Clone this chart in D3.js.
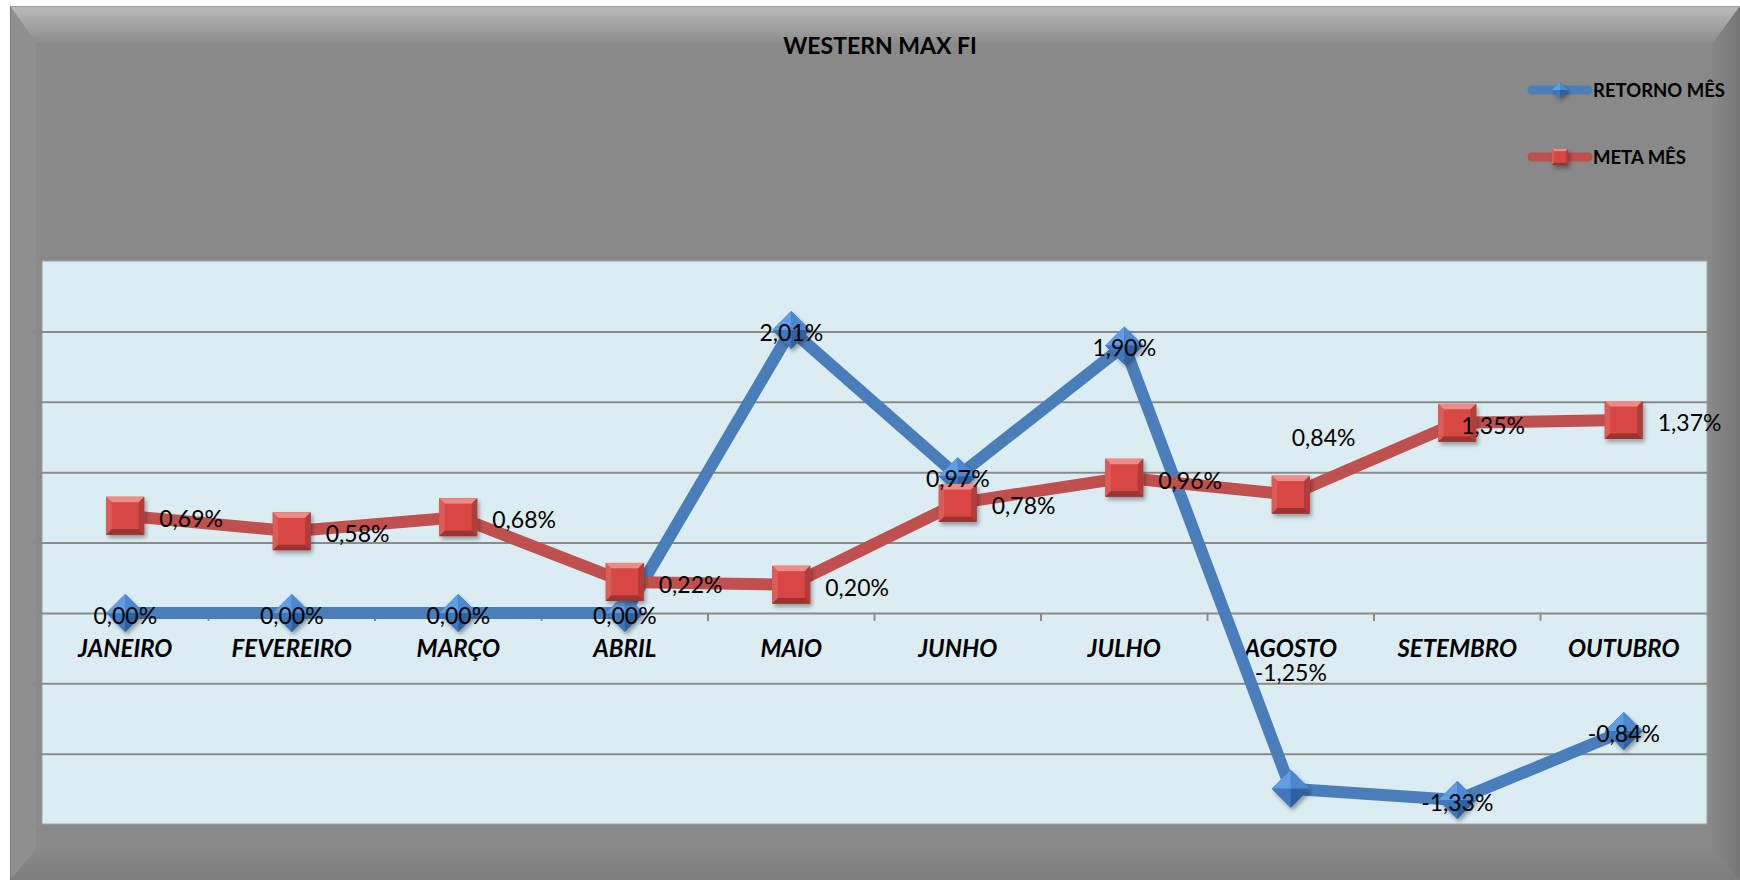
<!DOCTYPE html>
<html>
<head>
<meta charset="utf-8">
<script src="https://cdn.jsdelivr.net/npm/d3@7"></script>
<style>
  body { margin: 0; background: #ffffff; }
  svg text { font-family: Lato, "Open Sans", sans-serif; }
</style>
</head>
<body>
<div id="chart"></div>
<script>
// chart values

var months = ["JANEIRO", "FEVEREIRO", "MARÇO", "ABRIL", "MAIO", "JUNHO", "JULHO", "AGOSTO", "SETEMBRO", "OUTUBRO"];
var retornoMes = [0.00, 0.00, 0.00, 0.00, 2.01, 0.97, 1.90, -1.25, -1.33, -0.84];
var metaMes = [0.69, 0.58, 0.68, 0.22, 0.20, 0.78, 0.96, 0.84, 1.35, 1.37];
var seriesNames = ["RETORNO MÊS", "META MÊS"];
var yTicks = [-1.5, -1.0, -0.5, 0, 0.5, 1.0, 1.5, 2.0, 2.5];

// SVG container size

var svgWidth = 1740;
var svgHeight = 880;

var plot = { left: 42, top: 261, right: 1707, bottom: 824 };

var svg = d3.select("#chart")
    .append("svg")
    .attr("width", svgWidth)
    .attr("height", svgHeight);

var defs = svg.append("defs");

var topGrad = defs.append("linearGradient").attr("id", "topGrad")
    .attr("x1", 0).attr("y1", 0).attr("x2", 0).attr("y2", 1);
topGrad.append("stop").attr("offset", "0%").attr("stop-color", "#bcbcbc");
topGrad.append("stop").attr("offset", "100%").attr("stop-color", "#8c8c8c");

var rightGrad = defs.append("linearGradient").attr("id", "rightGrad")
    .attr("x1", 0).attr("y1", 0).attr("x2", 1).attr("y2", 0);
rightGrad.append("stop").attr("offset", "0%").attr("stop-color", "#878787");
rightGrad.append("stop").attr("offset", "100%").attr("stop-color", "#767676");

var bottomGrad = defs.append("linearGradient").attr("id", "bottomGrad")
    .attr("x1", 0).attr("y1", 0).attr("x2", 0).attr("y2", 1);
bottomGrad.append("stop").attr("offset", "0%").attr("stop-color", "#888888");
bottomGrad.append("stop").attr("offset", "100%").attr("stop-color", "#7d7d7d");

var shadow = defs.append("filter").attr("id", "shadow")
    .attr("x", "-50%").attr("y", "-50%").attr("width", "200%").attr("height", "200%");
shadow.append("feDropShadow")
    .attr("dx", 2).attr("dy", 3).attr("stdDeviation", 2)
    .attr("flood-color", "#000").attr("flood-opacity", 0.35);

// outer frame with bevel

var fx0 = 10, fy0 = 6, fx1 = 1740, fy1 = 880, bev = 27;
svg.append("rect")
    .attr("x", fx0).attr("y", fy0)
    .attr("width", fx1 - fx0).attr("height", fy1 - fy0)
    .attr("fill", "#898989");
svg.append("polygon")
    .attr("points", [[fx0, fy0], [fx1, fy0], [fx1 - bev, fy0 + 37], [fx0 + 26, fy0 + 37]].join(" "))
    .attr("fill", "url(#topGrad)");
svg.append("polygon")
    .attr("points", [[fx0, fy0], [fx0 + 26, fy0 + 37], [fx0 + 26, fy1 - 30], [fx0, fy1]].join(" "))
    .attr("fill", "#8f8f8f");
svg.append("polygon")
    .attr("points", [[fx1, fy0], [fx1, fy1], [fx1 - bev, fy1 - 30], [fx1 - bev, fy0 + 37]].join(" "))
    .attr("fill", "url(#rightGrad)");
svg.append("polygon")
    .attr("points", [[fx0, fy1], [fx0 + 26, fy1 - 30], [fx1 - bev, fy1 - 30], [fx1, fy1]].join(" "))
    .attr("fill", "url(#bottomGrad)");
svg.append("line")
    .attr("x1", fx0 + 0.5).attr("x2", fx0 + 0.5).attr("y1", fy0).attr("y2", fy1)
    .attr("stroke", "#7a7a7a").attr("stroke-width", 1);
svg.append("line")
    .attr("x1", fx0).attr("x2", fx1).attr("y1", fy0 + 0.5).attr("y2", fy0 + 0.5)
    .attr("stroke", "#9c9c9c").attr("stroke-width", 1);

// title

svg.append("text")
    .attr("x", 880)
    .attr("y", 45)
    .attr("text-anchor", "middle")
    .attr("dominant-baseline", "central")
    .attr("font-size", 23)
    .attr("font-weight", "bold")
    .attr("fill", "#000")
    .text("WESTERN MAX FI");

// plot area

svg.append("rect")
    .attr("x", plot.left).attr("y", plot.top)
    .attr("width", plot.right - plot.left).attr("height", plot.bottom - plot.top)
    .attr("fill", "#dbedf3")
    .attr("stroke", "#9aa6aa")
    .attr("stroke-width", 1);

var xScale = d3.scaleBand()
    .domain(months)
    .range([plot.left, plot.right])
    .padding(0);

var yScale = d3.scaleLinear()
    .domain([-1.5, 2.5])
    .range([plot.bottom, plot.top]);

var cx = function (i) { return xScale(months[i]) + xScale.bandwidth() / 2; };

// gridlines

var gridAxis = d3.axisLeft(yScale)
    .tickValues(yTicks.filter(function (t) { return t > -1.5 && t < 2.5; }))
    .tickSize(-(plot.right - plot.left))
    .tickFormat("");

var grid = svg.append("g")
    .attr("transform", `translate(${plot.left}, 0)`)
    .call(gridAxis);
grid.select(".domain").remove();
grid.selectAll(".tick line")
    .attr("stroke", "#8a8a8a")
    .attr("stroke-width", 2);

// y axis ticks (no labels)

var leftAxis = d3.axisLeft(yScale)
    .tickValues(yTicks)
    .tickSize(9)
    .tickFormat("");
var yAxis = svg.append("g")
    .attr("transform", `translate(${plot.left}, 0)`)
    .call(leftAxis);
yAxis.select(".domain").remove();
yAxis.selectAll(".tick line").attr("stroke", "#8a8a8a").attr("stroke-width", 2);

// x axis ticks at category boundaries on the zero line

var zeroY = yScale(0);
var boundaries = months.map(function (m) { return xScale(m); }).concat([plot.right]);
svg.selectAll(".xtick")
    .data(boundaries.slice(1, -1))
    .enter()
    .append("line")
    .attr("class", "xtick")
    .attr("x1", d => d).attr("x2", d => d)
    .attr("y1", zeroY).attr("y2", zeroY + 8)
    .attr("stroke", "#8a8a8a")
    .attr("stroke-width", 2);

// category labels

svg.selectAll(".catLabel")
    .data(months)
    .enter()
    .append("text")
    .attr("class", "catLabel")
    .attr("x", (d, i) => cx(i))
    .attr("y", 647)
    .attr("text-anchor", "middle")
    .attr("dominant-baseline", "central")
    .attr("font-size", 24)
    .attr("font-weight", "bold")
    .attr("font-style", "italic")
    .attr("fill", "#000")
    .text(d => d);

// lines

var blue = "#4a7ebb";
var red = "#c0504d";

var lineGen = d3.line()
    .x(function (d, i) { return cx(i); })
    .y(function (d) { return yScale(d); });

svg.append("path")
    .datum(retornoMes)
    .attr("d", lineGen)
    .attr("fill", "none")
    .attr("stroke", blue)
    .attr("stroke-width", 12)
    .attr("stroke-linejoin", "round");

svg.append("path")
    .datum(metaMes)
    .attr("d", lineGen)
    .attr("fill", "none")
    .attr("stroke", red)
    .attr("stroke-width", 12)
    .attr("stroke-linejoin", "round");

// markers

function drawDiamond(g, h) {
    g.append("polygon")
        .attr("points", [[0, -h], [h, 0], [0, h], [-h, 0]].join(" "))
        .attr("fill", "#3f74b4")
        .attr("filter", "url(#shadow)");
    g.append("polygon").attr("points", [[0, -h], [-h, 0], [0, 0]].join(" ")).attr("fill", "#5f9de4");
    g.append("polygon").attr("points", [[0, -h], [h, 0], [0, 0]].join(" ")).attr("fill", "#4c88cf");
    g.append("polygon").attr("points", [[-h, 0], [0, h], [0, 0]].join(" ")).attr("fill", "#3f78bd");
    g.append("polygon").attr("points", [[h, 0], [0, h], [0, 0]].join(" ")).attr("fill", "#30619f");
}

function drawSquare(g, h) {
    var b = h * 0.3;
    g.append("rect")
        .attr("x", -h).attr("y", -h).attr("width", 2 * h).attr("height", 2 * h)
        .attr("fill", "#c94845")
        .attr("filter", "url(#shadow)");
    g.append("polygon").attr("points", [[-h, -h], [h, -h], [h - b, -h + b], [-h + b, -h + b]].join(" ")).attr("fill", "#ee8a87");
    g.append("polygon").attr("points", [[-h, -h], [-h + b, -h + b], [-h + b, h - b], [-h, h]].join(" ")).attr("fill", "#dc5c58");
    g.append("polygon").attr("points", [[h, -h], [h, h], [h - b, h - b], [h - b, -h + b]].join(" ")).attr("fill", "#b13d3a");
    g.append("polygon").attr("points", [[-h, h], [h, h], [h - b, h - b], [-h + b, h - b]].join(" ")).attr("fill", "#9b3330");
    g.append("rect")
        .attr("x", -h + b).attr("y", -h + b).attr("width", 2 * (h - b)).attr("height", 2 * (h - b))
        .attr("fill", "#d84744");
}

svg.selectAll(".diamond")
    .data(retornoMes)
    .enter()
    .append("g")
    .attr("class", "diamond")
    .attr("transform", (d, i) => `translate(${cx(i)}, ${yScale(d)})`)
    .each(function () { drawDiamond(d3.select(this), 19); });

svg.selectAll(".square")
    .data(metaMes)
    .enter()
    .append("g")
    .attr("class", "square")
    .attr("transform", (d, i) => `translate(${cx(i)}, ${yScale(d)})`)
    .each(function () { drawSquare(d3.select(this), 19); });

// data labels

var ptBR = d3.formatLocale({ decimal: ",", thousands: ".", grouping: [3], currency: ["R$", ""], minus: "-" });
var fmt = function (v) { return ptBR.format(".2f")(v) + "%"; };

// labels moved by hand in the original
var retornoOffset = { 7: [0, -117] };
var metaOffset = { 7: [1, -58], 8: [4, 2] };

svg.selectAll(".retLabel")
    .data(retornoMes)
    .enter()
    .append("text")
    .attr("class", "retLabel")
    .attr("x", (d, i) => cx(i) + (retornoOffset[i] ? retornoOffset[i][0] : 0))
    .attr("y", (d, i) => yScale(d) + (retornoOffset[i] ? retornoOffset[i][1] : 2))
    .attr("text-anchor", "middle")
    .attr("dominant-baseline", "central")
    .attr("font-size", 23)
    .attr("fill", "#000")
    .text(d => fmt(d));

svg.selectAll(".metaLabel")
    .data(metaMes)
    .enter()
    .append("text")
    .attr("class", "metaLabel")
    .attr("x", (d, i) => cx(i) + (metaOffset[i] ? metaOffset[i][0] : 34))
    .attr("y", (d, i) => yScale(d) + (metaOffset[i] ? metaOffset[i][1] : 2))
    .attr("text-anchor", "start")
    .attr("dominant-baseline", "central")
    .attr("font-size", 23)
    .attr("fill", "#000")
    .text(d => fmt(d));

// legend

var legendY = [90, 157];
var legend = svg.selectAll(".legend")
    .data(seriesNames)
    .enter()
    .append("g")
    .attr("class", "legend")
    .attr("transform", (d, i) => `translate(1532, ${legendY[i]})`);

legend.append("line")
    .attr("x1", 0).attr("x2", 56)
    .attr("y1", 0).attr("y2", 0)
    .attr("stroke", (d, i) => i === 0 ? blue : red)
    .attr("stroke-width", 9)
    .attr("stroke-linecap", "round");

legend.each(function (d, i) {
    var m = d3.select(this).append("g").attr("transform", "translate(28, 0)");
    if (i === 0) drawDiamond(m, 8);
    else drawSquare(m, 8);
});

legend.append("text")
    .attr("x", 61)
    .attr("y", 0)
    .attr("dominant-baseline", "central")
    .attr("font-size", 18.5)
    .attr("font-weight", "bold")
    .attr("fill", "#000")
    .text(d => d);
</script>
</body>
</html>
